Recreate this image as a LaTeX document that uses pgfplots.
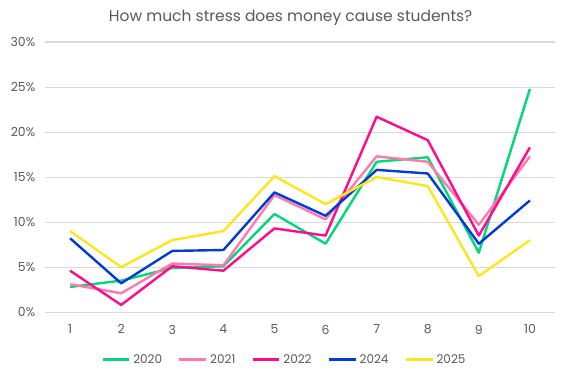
\documentclass[border=0pt]{standalone}
\usepackage{pgfplots}
\pgfplotsset{compat=1.18}
\usepackage{fontspec}
\setmainfont{Poppins}
\definecolor{c20}{RGB}{0,214,122}
\definecolor{c21}{RGB}{255,122,172}
\definecolor{c22}{RGB}{255,12,140}
\definecolor{c24}{RGB}{0,60,210}
\definecolor{c25}{RGB}{255,228,30}
\definecolor{txt}{RGB}{89,89,89}
\definecolor{grd}{RGB}{217,217,217}
\begin{document}
\begin{tikzpicture}
\begin{axis}[
  scale only axis,
  width=383pt, height=202.5pt,
  xmin=0.5, xmax=10.5, ymin=0, ymax=30,
  xtick={1,...,10},
  ytick={0,5,...,30},
  /pgf/number format/assume math mode=true,
  yticklabel={\pgfmathprintnumber{\tick}\%},
  axis line style={draw=none},
  major tick length=0pt,
  ymajorgrids, grid style={grd, line width=0.8pt},
  tick label style={font=\fontsize{9.3}{10}\selectfont, text=txt},
  xticklabel style={yshift=-6pt},
  yticklabel style={xshift=-3.5pt},
  title={How much stress does money cause students?},
  title style={font=\fontsize{11.6}{13}\selectfont, text=txt, yshift=3pt, xshift=-7pt},
  legend columns=5,
  legend style={at={(0.47,-0.135)}, anchor=north, draw=none, fill=none,
    font=\fontsize{9}{10}\selectfont, text=txt,
    /tikz/every even column/.append style={column sep=10pt}},
  legend image code/.code={\draw[#1, line width=2pt] (0pt,0pt) -- (20pt,0pt);},
  every axis plot/.append style={line width=1.8pt, line join=round},
]
\addplot[c20] coordinates {(1,2.8)(2,3.5)(3,4.9)(4,5.1)(5,10.9)(6,7.6)(7,16.7)(8,17.2)(9,6.6)(10,24.8)};
\addplot[c21] coordinates {(1,3.1)(2,2.1)(3,5.4)(4,5.2)(5,13.0)(6,10.3)(7,17.3)(8,16.7)(9,9.7)(10,17.3)};
\addplot[c22] coordinates {(1,4.6)(2,0.8)(3,5.1)(4,4.6)(5,9.3)(6,8.5)(7,21.7)(8,19.1)(9,8.5)(10,18.3)};
\addplot[c24] coordinates {(1,8.2)(2,3.2)(3,6.8)(4,6.9)(5,13.3)(6,10.7)(7,15.8)(8,15.4)(9,7.6)(10,12.4)};
\addplot[c25] coordinates {(1,9.0)(2,5.0)(3,8.0)(4,9.0)(5,15.1)(6,12.0)(7,15.0)(8,14.0)(9,4.0)(10,8.0)};
\legend{2020,2021,2022,2024,2025}
\end{axis}
\path (current axis.south west) ++(-33.4pt,-48.75pt) coordinate (bl);
\path (current axis.north east) ++(9.4pt,31.5pt) coordinate (tr);
\useasboundingbox (bl) rectangle (tr);
\end{tikzpicture}
\end{document}
